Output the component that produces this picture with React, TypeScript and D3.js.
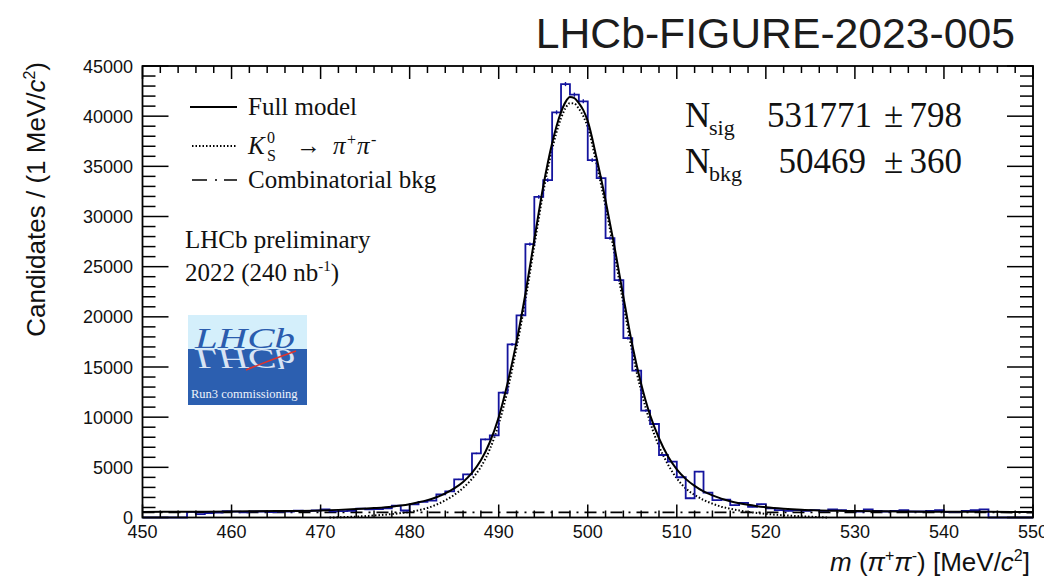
import React from "react";
import * as d3 from "d3";

// histogram: 1 MeV bins, low edges 450 ... 549
const binLowEdges = d3.range(450, 550);
const binCounts = [
  0, 0, 0, 0, 0, 560, 330, 450, 480, 640,
  580, 520, 620, 600, 540, 580, 600, 680, 660, 700,
  800, 620, 640, 660, 880, 820, 830, 900, 1180, 700,
  1320, 1560, 1680, 2300, 2600, 3790, 4290, 6390, 7780, 8180,
  12440, 17260, 20150, 27240, 31960, 33620, 40380, 43200, 42140, 41480,
  35620, 33820, 27840, 23650, 17870, 14640, 10650, 9320, 6230, 5560,
  4010, 1920, 4570, 2470, 1725, 1790, 1230, 1460, 1060, 1330,
  900, 730, 660, 730, 660, 730, 660, 800, 730, 660,
  600, 800, 660, 600, 660, 730, 600, 600, 660, 730,
  530, 530, 660, 730, 800, 0, 0, 0, 0, 0,
];

// fit components
const fullMass = [450, 455, 460, 465, 470, 472, 474, 476, 478, 479, 480, 481, 482, 483, 484, 485, 486, 487, 488, 489, 490, 491, 492, 493, 494, 495, 496, 497, 497.5, 498, 498.5, 499, 499.5, 500, 501, 502, 503, 504, 505, 506, 507, 508, 509, 510, 511, 512, 513, 514, 515, 516, 517, 518, 519, 520, 522, 524, 526, 528, 530, 535, 540, 545, 550];
const fullModel = [560, 575, 600, 640, 700, 760, 840, 940, 1080, 1190, 1330, 1510, 1730, 2020, 2400, 2900, 3550, 4450, 5700, 7500, 10000, 13400, 17500, 22300, 27700, 33000, 37300, 40400, 41400, 41900, 41800, 41300, 40600, 39500, 35800, 31600, 27000, 22000, 17200, 13300, 10200, 7900, 6100, 4800, 3850, 3150, 2600, 2200, 1880, 1620, 1420, 1260, 1130, 1020, 870, 770, 710, 670, 640, 600, 575, 562, 555];

const sigMass = [471, 472, 474, 476, 478, 480, 481, 482, 483, 484, 485, 486, 487, 488, 489, 490, 491, 492, 493, 494, 495, 496, 497, 497.5, 498, 498.5, 499, 499.5, 500, 501, 502, 503, 504, 505, 506, 507, 508, 509, 510, 511, 512, 513, 514, 515, 516, 517, 518, 519, 520, 522, 524, 526, 527];
const sigModel = [0, 20, 90, 200, 340, 560, 720, 950, 1280, 1700, 2250, 2950, 3850, 5050, 6800, 9300, 12700, 16900, 21700, 27100, 32400, 36700, 39800, 40800, 41300, 41250, 40750, 40000, 38900, 35200, 31000, 26300, 21300, 16500, 12600, 9500, 7100, 5300, 3900, 2900, 2250, 1750, 1380, 1080, 870, 700, 560, 450, 360, 220, 120, 40, 0];

const bkgMass = [450, 550];
const bkgModel = [520, 495];

const xMajor = d3.range(450, 551, 10);
const xMinor = d3.range(450, 551, 2);
const yMajor = d3.range(0, 45001, 5000);
const yMinor = d3.range(0, 45001, 1000);

const SANS = "'Liberation Sans', Arial, Helvetica, sans-serif";
const SERIF = "'Liberation Serif', 'Times New Roman', serif";
const HIST_BLUE = "#14149e";

export default function App() {
  const W = 1044;
  const H = 576;
  const x = d3.scaleLinear().domain([450, 550]).range([142.5, 1033]);
  const y = d3.scaleLinear().domain([0, 45000]).range([517.5, 66]);
  const left = x(450), right = x(550), top = y(45000), bottom = y(0);

  const histPts: [number, number][] = binCounts.map((c, i) => [x(binLowEdges[i]), y(c)]);
  histPts.push([x(550), y(binCounts[binCounts.length - 1])]);
  const histPath = d3.line().curve(d3.curveStepAfter)(histPts) || "";

  const curve = (ms: number[], vs: number[]) =>
    d3.line<number>()
      .x((_, i) => x(ms[i]))
      .y((v) => y(v))
      .curve(d3.curveMonotoneX)(vs) || "";

  return (
    <svg width={W} height={H} style={{ position: "absolute", left: 0, top: 0, background: "#fff" }}>
      {/* title */}
      <text x={1015} y={48} textAnchor="end" fontFamily={SANS} fontSize={42.7} fill="#1c1c1c">
        LHCb-FIGURE-2023-005
      </text>

      {/* models */}
      <path d={curve(bkgMass, bkgModel)} fill="none" stroke="#000" strokeWidth={1.7} strokeDasharray="12,6,2,6" />
      <path d={curve(sigMass, sigModel)} fill="none" stroke="#000" strokeWidth={2} strokeDasharray="1.5,2" />

      {/* data */}
      <path d={histPath} fill="none" stroke={HIST_BLUE} strokeWidth={1.8} />
      {binCounts.map((c, i) =>
        c > 0 ? (
          <line key={i} x1={x(binLowEdges[i] + 0.5)} x2={x(binLowEdges[i] + 0.5)}
            y1={y(c + Math.sqrt(c))} y2={y(c - Math.sqrt(c))} stroke={HIST_BLUE} strokeWidth={1.4} />
        ) : null
      )}
      <path d={curve(fullMass, fullModel)} fill="none" stroke="#000" strokeWidth={2} />

      {/* frame and ticks */}
      <rect x={left} y={top} width={right - left} height={bottom - top} fill="none" stroke="#000" strokeWidth={1.8} />
      {xMinor.map((v) => {
        const major = v % 10 === 0;
        const len = major ? 13 : 7;
        return (
          <g key={"xt" + v} stroke="#000" strokeWidth={1.5}>
            <line x1={x(v)} x2={x(v)} y1={bottom} y2={bottom - len} />
            <line x1={x(v)} x2={x(v)} y1={top} y2={top + len} />
          </g>
        );
      })}
      {yMinor.map((v) => {
        const major = v % 5000 === 0;
        const len = major ? 26 : 13;
        return (
          <g key={"yt" + v} stroke="#000" strokeWidth={1.5}>
            <line x1={left} x2={left + len} y1={y(v)} y2={y(v)} />
            <line x1={right} x2={right - len} y1={y(v)} y2={y(v)} />
          </g>
        );
      })}
      {xMajor.map((v) => (
        <text key={"xl" + v} x={x(v)} y={538} textAnchor="middle" fontFamily={SANS} fontSize={18} fill="#111">
          {v}
        </text>
      ))}
      {yMajor.map((v) => (
        <text key={"yl" + v} x={133} y={y(v) + 6.5} textAnchor="end" fontFamily={SANS} fontSize={18} fill="#111">
          {v}
        </text>
      ))}

      {/* axis titles */}
      <text x={1030} y={571} textAnchor="end" fontFamily={SANS} fontSize={26} fill="#111">
        <tspan fontStyle="italic">m</tspan>
        <tspan> (</tspan>
        <tspan fontStyle="italic">π</tspan>
        <tspan fontSize={16} dy={-10}>+</tspan>
        <tspan fontStyle="italic" dy={10}>π</tspan>
        <tspan fontSize={16} dy={-10}>-</tspan>
        <tspan dy={10}>) [MeV/</tspan>
        <tspan fontStyle="italic">c</tspan>
        <tspan fontSize={16} dy={-10}>2</tspan>
        <tspan dy={10}>]</tspan>
      </text>
      <text transform="translate(45,62) rotate(-90)" textAnchor="end" fontFamily={SANS} fontSize={26} fill="#111">
        <tspan>Candidates / (1 MeV/</tspan>
        <tspan fontStyle="italic">c</tspan>
        <tspan fontSize={16} dy={-10}>2</tspan>
        <tspan dy={10}>)</tspan>
      </text>

      {/* legend */}
      <g fontFamily={SERIF} fontSize={25} fill="#111">
        <line x1={190} x2={237} y1={107} y2={107} stroke="#000" strokeWidth={2} />
        <text x={248} y={115}>Full model</text>
        <line x1={192} x2={237} y1={146} y2={146} stroke="#000" strokeWidth={1.8} strokeDasharray="1.5,2" />
        <text x={248} y={154} fontStyle="italic">K</text>
        <text x={267} y={143} fontSize={16}>0</text>
        <text x={267} y={161} fontSize={16}>S</text>
        <text x={296} y={154}>→</text>
        <text x={333} y={154} fontStyle="italic">π</text>
        <text x={347} y={145} fontSize={16}>+</text>
        <text x={357} y={154} fontStyle="italic">π</text>
        <text x={371} y={145} fontSize={16}>-</text>
        <line x1={192} x2={237} y1={180} y2={180} stroke="#000" strokeWidth={1.6} strokeDasharray="15,8,2,7" />
        <text x={248} y={188}>Combinatorial bkg</text>

        <text x={185} y={248}>LHCb preliminary</text>
        <text x={185} y={281}>
          2022 (240 nb<tspan fontSize={15} dy={-10}>-1</tspan>
          <tspan dy={10}>)</tspan>
        </text>
      </g>

      {/* yields */}
      <g fontFamily={SERIF} fill="#111">
        <text x={685} y={127} fontSize={35}>N</text>
        <text x={709} y={135} fontSize={22}>sig</text>
        <text x={872} y={127} fontSize={35} textAnchor="end">531771</text>
        <text x={884} y={127} fontSize={35}>±</text>
        <text x={962} y={127} fontSize={35} textAnchor="end">798</text>
        <text x={685} y={173} fontSize={35}>N</text>
        <text x={709} y={181} fontSize={22}>bkg</text>
        <text x={866} y={173} fontSize={35} textAnchor="end">50469</text>
        <text x={884} y={173} fontSize={35}>±</text>
        <text x={962} y={173} fontSize={35} textAnchor="end">360</text>
      </g>

      {/* logo */}
      <g>
        <rect x={188} y={315} width={119} height={34} fill="#d4effb" />
        <rect x={188} y={349} width={119} height={56} fill="#2c5fb0" />
        <text x={195} y={348} fontFamily={SERIF} fontStyle="italic" fontSize={30} fill="#2a5cae"
          textLength={100} lengthAdjust="spacingAndGlyphs">LHCb</text>
        <text transform="translate(0,697) scale(1,-1)" x={195} y={348} fontFamily={SERIF} fontStyle="italic"
          fontSize={30} fill="#d8e4f4" textLength={100} lengthAdjust="spacingAndGlyphs">LHCb</text>
        <path d="M246,370 Q270,360 296,351" fill="none" stroke="#e0332c" strokeWidth={1.5} />
        <text x={191} y={398} fontFamily={SERIF} fontSize={12.5} fill="#eef3fb">Run3 commissioning</text>
      </g>
    </svg>
  );
}
